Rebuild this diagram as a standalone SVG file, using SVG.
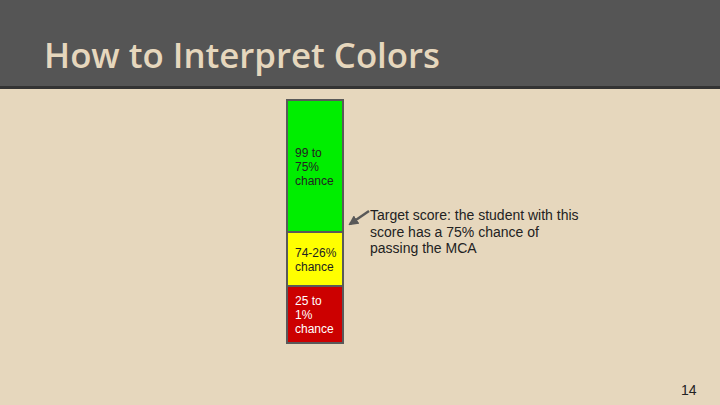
<svg xmlns="http://www.w3.org/2000/svg" width="720" height="405" viewBox="0 0 720 405">
<defs>
<style>
.t{font-family:"Liberation Sans",Arial,sans-serif;font-size:12px;fill:#222}
.n{font-family:"Liberation Sans",Arial,sans-serif;font-size:14px;fill:#222}
.seg{stroke:#595959;stroke-width:2}
</style>
<marker id="ah" viewBox="0 0 10 10" refX="8" refY="5" markerWidth="4" markerHeight="4" orient="auto"><path d="M0,0 L10,5 L0,10 z" fill="#595959"/></marker>
</defs>
<rect width="720" height="405" fill="#E6D7BD"/>
<rect width="720" height="87" fill="#555555"/>
<rect y="86" width="720" height="3" fill="#333333"/>
<text x="44" y="68" font-family="Open Sans,sans-serif" font-size="35" font-weight="600" fill="#E6D7BD" textLength="396" lengthAdjust="spacingAndGlyphs">How to Interpret Colors</text>
<g id="green"><rect class="seg" x="287" y="100" width="56" height="132" fill="#00EE00"/>
<text class="t" x="295" y="157">99 to</text><text class="t" x="295" y="171">75%</text><text class="t" x="295" y="185">chance</text></g>
<g id="yellow"><rect class="seg" x="287" y="232" width="56" height="54" fill="#FFFF00"/>
<text class="t" x="295" y="257">74-26%</text><text class="t" x="295" y="271">chance</text></g>
<g id="red"><rect class="seg" x="287" y="286" width="56" height="57" fill="#CC0000"/>
<text class="t" x="295" y="305" style="fill:#fff">25 to</text><text class="t" x="295" y="319" style="fill:#fff">1%</text><text class="t" x="295" y="333" style="fill:#fff">chance</text></g>
<g id="connectors"><line x1="369" y1="211" x2="350" y2="224" stroke="#595959" stroke-width="2.5" marker-end="url(#ah)"/></g>
<g id="label"><text class="n" x="370" y="220">Target score: the student with this</text>
<text class="n" x="370" y="237">score has a 75% chance of</text>
<text class="n" x="370" y="253">passing the MCA</text></g>
<text class="n" x="681" y="395">14</text>
</svg>
